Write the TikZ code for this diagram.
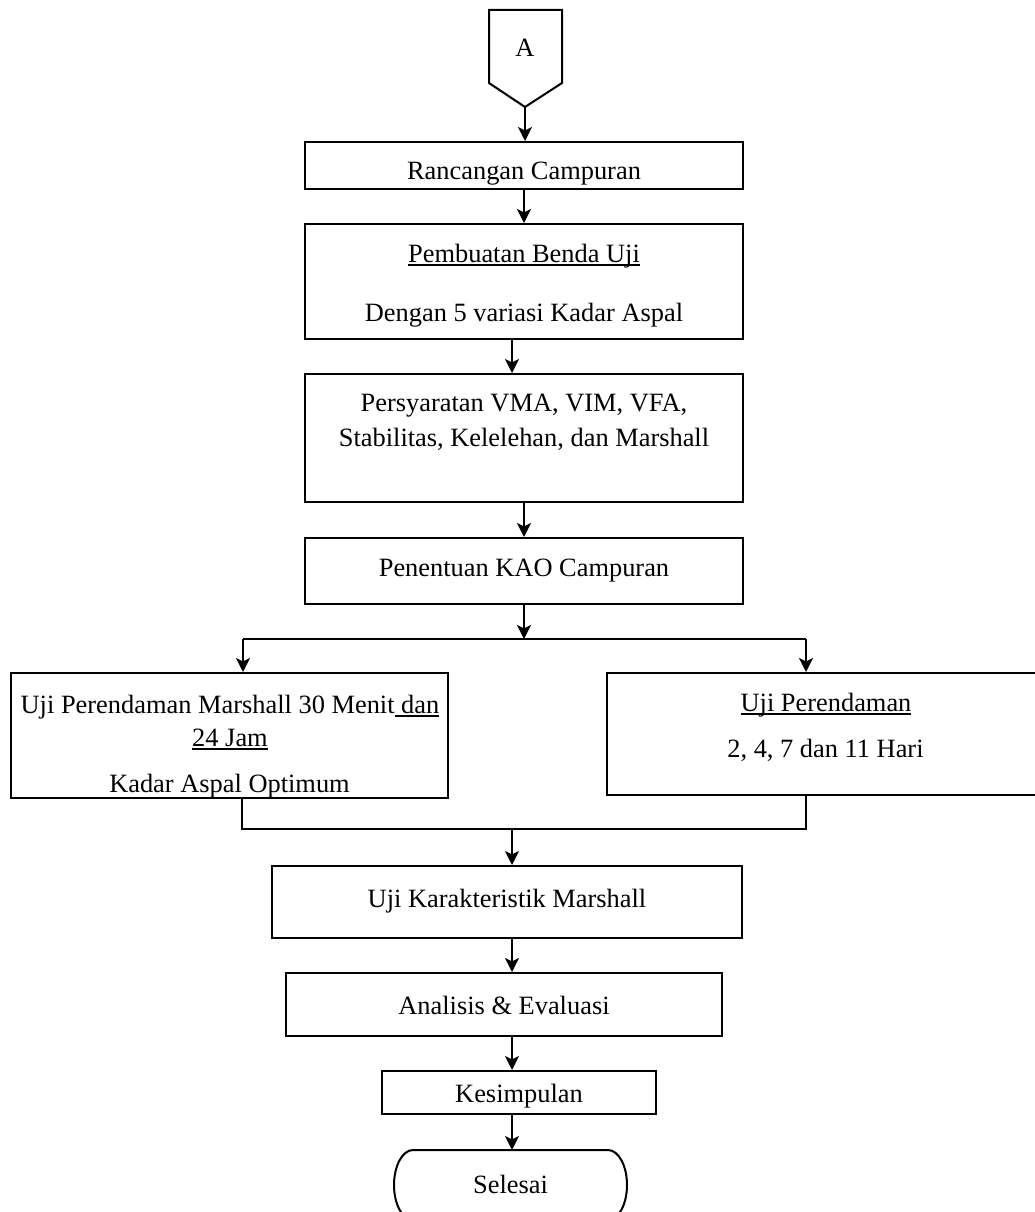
\documentclass[tikz,border=0pt]{standalone}
\usepackage{fontspec}
\setmainfont{Liberation Serif}
\usetikzlibrary{arrows.meta}
\pgfkeys{tikz/mybox/.style={draw,line width=2pt,inner sep=0pt}}
\pgfkeys{tikz/mytext/.style={anchor=base,inner sep=0pt}}
\pgfkeys{tikz/myline/.style={line width=2pt}}
\pgfkeys{tikz/myarrow/.style={line width=2pt,-{Stealth[length=14pt,width=14pt,inset=3.5pt]}}}
\newcommand*\mybox[5][]{\node [mybox,minimum width=#4pt,minimum height=#5pt,#1] (#2) at (#3) {};}
\newcommand*\myul[1]{\setbox0\hbox{#1}\rlap{\rule[-4pt]{\wd0}{2pt}}\box0}

\begin{document}
\begin{tikzpicture}[x=1pt,y=-1pt,font=\fontsize{26.4}{30}\selectfont]
    \clip (0,0) rectangle (1035,1212);
    \coordinate (ax) at (512,0);

% connector A
\draw[myline] (489,10) -- (562,10) -- (562,83) -- (525,107) coordinate (a-tip) -- (489,83) -- cycle;
\node[mytext] (a) at (525,57) {A};

% boxes
\mybox{rc}{524,165.5}{438}{47}
\mybox{pb}{524,281.5}{438}{115}
\mybox{ps}{524,438}{438}{128}
\mybox{pk}{524,571}{438}{66}
\mybox{lb}{229.5,735.5}{437}{125}
\mybox{rb}{826,734}{438}{122}
\mybox{uk}{507,902}{470}{72}
\mybox{an}{504,1004.5}{436}{63}
\mybox{ks}{519,1092.5}{274}{43}

% end
\draw[myline] (413,1150) -- (608,1150) arc[start angle=-90,end angle=90,x radius=19,y radius=35]
    -- (413,1220) arc[start angle=90,end angle=270,x radius=19,y radius=35] -- cycle;
\coordinate (sl-top) at (512,1150);

% texts
\node[mytext] (rc-t) at (524,179) {Rancangan Campuran};
\node[mytext] (pb-t1) at (524,262) {\myul{Pembuatan Benda Uji}};
\node[mytext] (pb-t2) at (524,321) {Dengan 5 variasi Kadar Aspal};
\node[mytext] (ps-t1) at (524,411) {Persyaratan VMA, VIM, VFA,};
\node[mytext] (ps-t2) at (524,446) {Stabilitas, Kelelehan, dan Marshall};
\node[mytext] (pk-t) at (524,576) {Penentuan KAO Campuran};
\node[mytext] (lb-t1) at (230,713) {Uji Perendaman Marshall 30 Menit\myul{ dan}};
\node[mytext] (lb-t2) at (230,746) {\myul{24 Jam}};
\node[mytext] (lb-t3) at (229.5,792) {Kadar Aspal Optimum};
\node[mytext] (rb-t1) at (826,711) {\myul{Uji Perendaman}};
\node[mytext] (rb-t2) at (825.5,757) {2, 4, 7 dan 11 Hari};
\node[mytext] (uk-t) at (507,907) {Uji Karakteristik Marshall};
\node[mytext] (an-t) at (504,1014) {Analisis \& Evaluasi};
\node[mytext] (ks-t) at (519,1102) {Kesimpulan};
\node[mytext] (sl) at (510.5,1193) {Selesai};

% split and merge
\coordinate (spl) at (243,639);
\coordinate (spr) at (806,639);
\coordinate (mgl) at (242,829);
\coordinate (mgr) at (806,829);
\coordinate (mg) at (512,829);
\draw[myline] (spl) -- (spr);
\draw[myline] (lb.south -| mgl) -- (mgl) -- (mgr) -- (rb.south -| mgr);

% arrows
\draw[myarrow] (a-tip) -- (rc.north -| a-tip);
\draw[myarrow] (rc.south) -- (pb.north);
\draw[myarrow] (pb.south -| ax) -- (ps.north -| ax);
\draw[myarrow] (ps.south) -- (pk.north);
\draw[myarrow] (pk.south) -- (pk.south |- spl);
\draw[myarrow] (spl) -- (spl |- lb.north);
\draw[myarrow] (spr) -- (spr |- rb.north);
\draw[myarrow] (mg) -- (uk.north -| mg);
\draw[myarrow] (uk.south -| ax) -- (an.north -| ax);
\draw[myarrow] (an.south -| ax) -- (ks.north -| ax);
\draw[myarrow] (ks.south -| sl-top) -- (sl-top);

\end{tikzpicture}
\end{document}
